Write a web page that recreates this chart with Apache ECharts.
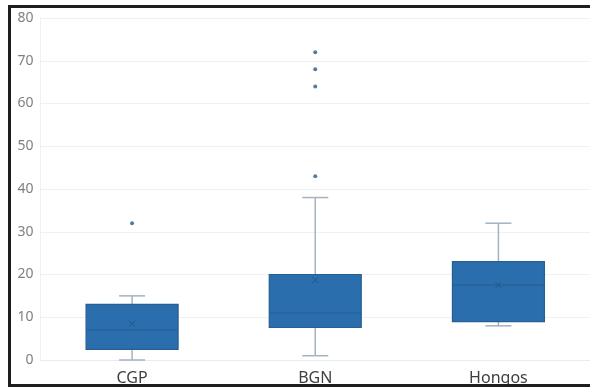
<!DOCTYPE html>
<html>
<head>
<meta charset="utf-8">
<script src="https://cdn.jsdelivr.net/npm/echarts@6/dist/echarts.min.js"></script>
<style>
    html, body { margin: 0; padding: 0; background: #fff; overflow: hidden; }
    #main { width: 590px; height: 387px; }
</style>
</head>
<body>
<div id="main"></div>
<script>
// 数据
var categories = ['CGP', 'BGN', 'Hongos']
var whiskerLow = [0, 1, 8]
var q1 = [2.5, 7.6, 9]
var median = [7, 11, 17.5]
var q3 = [13, 20, 23]
var whiskerHigh = [15, 38, 32]
var means = [8.5, 18.7, 17.5]
var outlierCat = [0, 1, 1, 1, 1]
var outlierVal = [32, 43, 64, 68, 72]
var yTicks = [0, 10, 20, 30, 40, 50, 60, 70, 80]

var chart = echarts.init(document.getElementById('main'))

// 箱体（须线单独画）
var boxData = categories.map(function (c, i) {
    return [q1[i], q1[i], median[i], q3[i], q3[i]]
})
var whiskerData = categories.map(function (c, i) {
    return [i, whiskerLow[i], whiskerHigh[i]]
})
var meanData = categories.map(function (c, i) {
    return [i, means[i]]
})
var outlierData = outlierVal.map(function (v, i) {
    return [outlierCat[i], v]
})

var whiskerColor = '#a3b3c2'

var option = {
    animation: false,
    grid: { left: 40.5, top: 18, width: 554, height: 342 },
    xAxis: {
        type: 'category',
        data: categories,
        axisLine: { lineStyle: { color: '#e8ecec' } },
        axisTick: { show: false },
        axisLabel: { color: '#3f3f3f', fontSize: 16, margin: 10, fontFamily: 'Noto Sans' },
        splitLine: { show: false }
    },
    yAxis: {
        type: 'value',
        min: yTicks[0],
        max: yTicks[yTicks.length - 1],
        interval: 10,
        axisLine: { show: true, lineStyle: { color: '#eef1f1' } },
        axisTick: { show: false },
        axisLabel: { color: '#808080', fontSize: 14, margin: 7, fontFamily: 'Noto Sans' },
        splitLine: { lineStyle: { color: '#eef1f1' } }
    },
    // 外边框（右侧被裁掉）
    graphic: [{
        type: 'polyline',
        shape: { points: [[640, 6.5], [9.5, 6.5], [9.5, 385.5], [640, 385.5]] },
        style: { fill: 'none', stroke: '#1e1e1e', lineWidth: 3 },
        z: 100
    }],
    series: [
        {
            // 须线
            type: 'custom',
            data: whiskerData,
            z: 1,
            renderItem: function (params, api) {
                var x = api.value(0)
                var lo = api.coord([x, api.value(1)])
                var hi = api.coord([x, api.value(2)])
                var cap = 13
                var style = { stroke: whiskerColor, lineWidth: 1.5 }
                return {
                    type: 'group',
                    children: [
                        { type: 'line', shape: { x1: lo[0], y1: lo[1], x2: hi[0], y2: hi[1] }, style: style },
                        { type: 'line', shape: { x1: lo[0] - cap, y1: lo[1], x2: lo[0] + cap, y2: lo[1] }, style: style },
                        { type: 'line', shape: { x1: hi[0] - cap, y1: hi[1], x2: hi[0] + cap, y2: hi[1] }, style: style }
                    ]
                }
            }
        },
        {
            type: 'boxplot',
            data: boxData,
            boxWidth: [92, 92],
            z: 2,
            itemStyle: { color: '#2b6ead', borderColor: '#275f95', borderWidth: 1.2 }
        },
        {
            // 均值
            type: 'scatter',
            data: meanData,
            z: 3,
            symbol: 'path://M0,0L10,10M10,0L0,10',
            symbolSize: 6,
            itemStyle: { color: 'none', borderColor: '#1f4f7e', borderWidth: 1 }
        },
        {
            // 离群点
            type: 'scatter',
            data: outlierData,
            z: 3,
            symbol: 'circle',
            symbolSize: 4,
            itemStyle: { color: '#2a5a8a' }
        }
    ]
}

chart.setOption(option)
</script>
</body>
</html>
